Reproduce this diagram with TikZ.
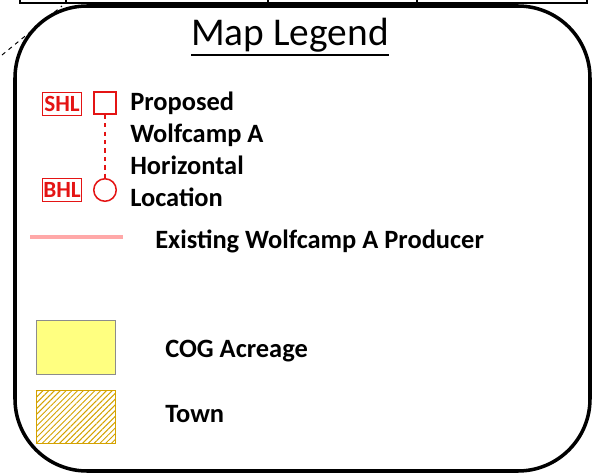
\documentclass[tikz,border=0pt]{standalone}
\usepackage{fontspec}
\setmainfont{Carlito}
\usetikzlibrary{positioning, patterns.meta}
\usepackage{xcolor}
\definecolor{tagred}{RGB}{228,20,20}
\definecolor{wellpink}{RGB}{255,168,168}
\definecolor{cogyellow}{RGB}{255,255,128}
\definecolor{towngold}{RGB}{212,162,0}
\tikzset{
  legframe/.style ={draw, line width=2.5pt, rounded corners=1.8cm},
  strip/.style    ={draw, line width=1pt},
  titletxt/.style ={inner sep=0pt, font=\fontsize{28}{30}\selectfont},
  itemtxt/.style  ={inner sep=0pt, align=left, font=\bfseries\fontsize{18.8}{22.6}\selectfont},
  tag/.style      ={draw=tagred, text=tagred, line width=0.9pt, inner sep=0pt, minimum width=27.5pt, minimum height=16pt, font=\bfseries\fontsize{16.5}{16.5}\selectfont},
  shlmk/.style    ={draw=tagred, line width=1.1pt, rectangle, minimum size=15.5pt, inner sep=0pt},
  bhlmk/.style    ={draw=tagred, line width=1.1pt, circle, minimum size=16pt, inner sep=0pt},
  lateral/.style  ={tagred, line width=1.1pt, dashed},                 % SHL -> BHL
  producer/.style ={wellpink, line width=2.2pt},
  swatch/.style   ={rectangle, minimum width=56.7pt, minimum height=38.3pt, inner sep=0pt},
}

\begin{document}
\begin{tikzpicture}[x=0.025cm, y=-0.025cm]
  \useasboundingbox (0,0) rectangle (594,474);
  % top of the map frame, cut off
  \draw[strip] (20,-10) rectangle (587,3);
  \foreach \x in {66,268,417}
    \draw[strip] (\x,-10) -- (\x,3);
  \coordinate (d1) at (2,55);
  \coordinate (d2) at (62,6);
  \draw[dashed, line width=0.7pt] (d1) -- (d2);
  \draw[legframe] (15,6) rectangle (590,471);

  \node[titletxt, anchor=base] (ttl) at (290,45) {Map Legend};
  \draw[line width=1.4pt] ([yshift=-7pt]ttl.base west) -- ([yshift=-7pt]ttl.base east);

  % proposed well
  \node[tag]   (shltag) at (62,104) {SHL};
  \node[tag]   (bhltag) at (62,190) {BHL};
  \node[shlmk] (shl)    at (105,103) {};
  \node[bhlmk] (bhl)    at (105,190) {};
  \draw[lateral] (shl) -- (bhl);
  \node[itemtxt, anchor=north west] (prop) at (130,92) {Proposed\\Wolfcamp A\\Horizontal\\Location};

  % existing producer
  \coordinate (w1) at (30,237);
  \coordinate (w2) at (123,237);
  \draw[producer] (w1) -- (w2);
  \node[itemtxt, anchor=base west] (exist) at (155,248) {Existing Wolfcamp A Producer};

  % acreage
  \node[swatch, draw=black!45, fill=cogyellow, line width=0.6pt] (cogbox) at (76,347) {};
  \node[itemtxt, anchor=base west] (cog) at (165,357) {COG Acreage};
  \node[swatch, draw=towngold, line width=0.8pt,
        pattern={Lines[angle=45, distance=2.9pt, line width=0.7pt]}, pattern color=towngold] (townbox) at (76,417) {};
  \node[itemtxt, anchor=base west] (town) at (165,422) {Town};
\end{tikzpicture}
\end{document}
